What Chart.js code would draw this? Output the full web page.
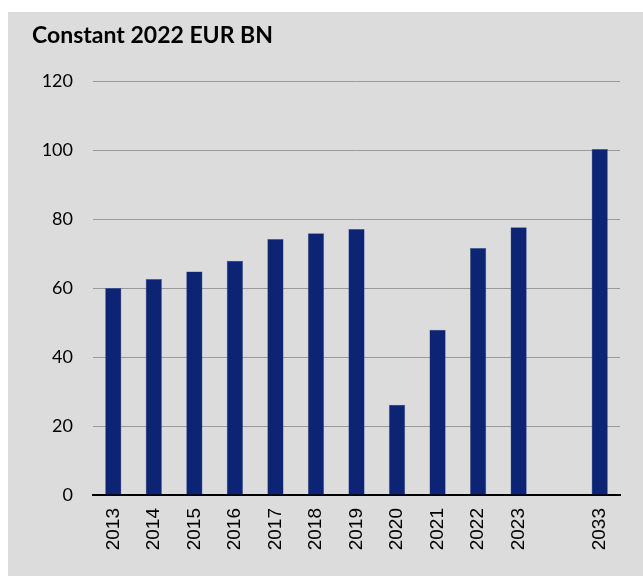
<!DOCTYPE html>
<html>
<head>
<meta charset="utf-8">
<script src="https://cdn.jsdelivr.net/npm/chart.js@4"></script>
<style>
    body { margin: 0; background: #ffffff; }
    #wrap { position: absolute; left: 8px; top: 12px; width: 635px; height: 564px; background: #dcdcdc; }
</style>
</head>
<body>
<div id="wrap"><canvas id="barchart" width="635" height="564"></canvas></div>
<script>
const years = ['2013', '2014', '2015', '2016', '2017', '2018', '2019', '2020', '2021', '2022', '2023', '', '2033'];
const spending = [60.1, 62.7, 64.9, 68.0, 74.3, 76.0, 77.2, 26.2, 48.0, 71.7, 77.7, null, 100.4];
const yTicks = [0, 20, 40, 60, 80, 100, 120];

window.addEventListener('load', () => {
    const ctx = document.getElementById('barchart');

    new Chart(ctx, {
        type: 'bar',
        data: {
            labels: years,
            datasets: [{
                label: 'Constant 2022 EUR BN',
                data: spending,
                backgroundColor: '#0c2473',
                borderColor: '#4a5b94',
                borderWidth: 0.5,
                barPercentage: 0.4,
                categoryPercentage: 1
            }]
        },
        options: {
            responsive: false,
            animation: false,
            layout: {
                padding: {left: 24, right: 23, top: 0, bottom: 0}
            },
            plugins: {
                legend: {display: false},
                tooltip: {enabled: false},
                title: {
                    display: true,
                    text: 'Constant 2022 EUR BN',
                    align: 'start',
                    color: '#000000',
                    font: {family: 'Lato', size: 23, weight: 'bold'},
                    padding: {top: 10, bottom: 32}
                }
            },
            scales: {
                x: {
                    grid: {display: false, drawTicks: false},
                    border: {display: true, color: '#000000', width: 2},
                    ticks: {
                        color: '#000000',
                        font: {family: 'Liberation Sans', size: 19},
                        minRotation: 90,
                        maxRotation: 90,
                        autoSkip: false,
                        padding: 13
                    },
                    afterFit: (scale) => { scale.height = 81; }
                },
                y: {
                    min: 0,
                    max: 120,
                    afterBuildTicks: (scale) => { scale.ticks = yTicks.map((v) => ({value: v})); },
                    grid: {
                        color: (c) => c.tick && c.tick.value === 0 ? 'rgba(0,0,0,0)' : '#9a9a9a',
                        lineWidth: 1,
                        drawTicks: false
                    },
                    border: {display: false},
                    ticks: {
                        color: '#000000',
                        font: {family: 'Lato', size: 18},
                        padding: 20
                    },
                    afterFit: (scale) => { scale.width = 61; }
                }
            }
        }
    });
})
</script>
</body>
</html>
